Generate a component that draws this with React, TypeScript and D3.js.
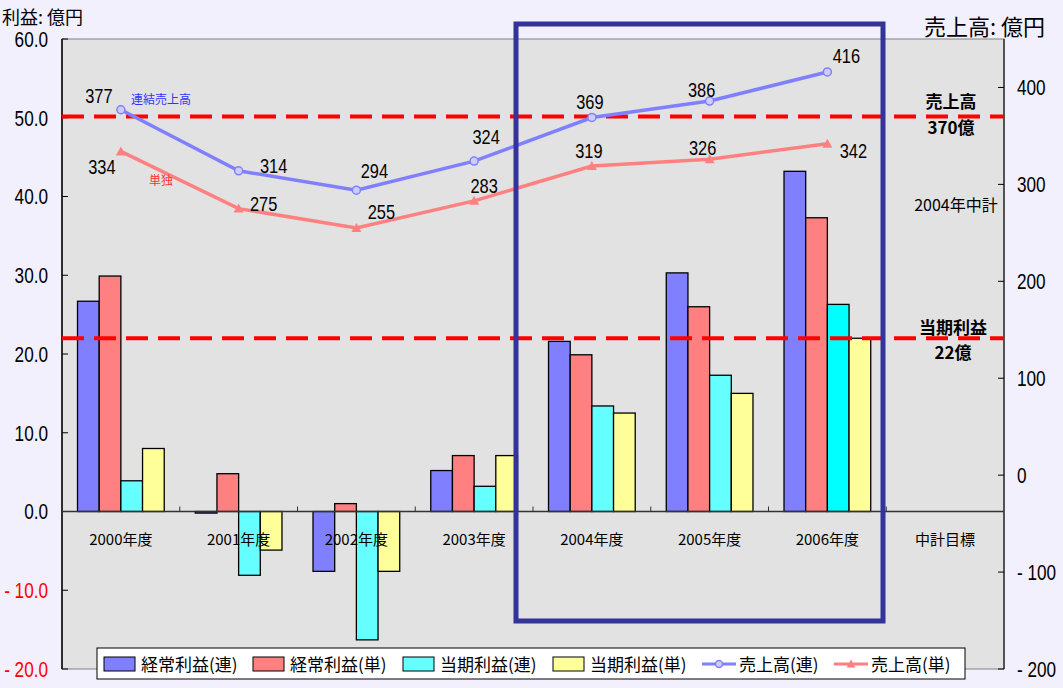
// @ts-nocheck
import React from 'react'
import * as d3 from 'd3'

const categories = ['2000年度', '2001年度', '2002年度', '2003年度', '2004年度', '2005年度', '2006年度', '中計目標']
const years = ['2000年度', '2001年度', '2002年度', '2003年度', '2004年度', '2005年度', '2006年度']

const seriesNames = ['経常利益(連)', '経常利益(単)', '当期利益(連)', '当期利益(単)']
const keijoRen = [26.7, -0.2, -7.6, 5.2, 21.6, 30.3, 43.2]
const keijoTan = [29.9, 4.8, 1.0, 7.1, 19.9, 26.0, 37.3]
const toukiRen = [3.9, -8.1, -16.3, 3.2, 13.4, 17.3, 26.3]
const toukiTan = [8.0, -4.9, -7.6, 7.1, 12.5, 15.0, 22.0]

const salesRen = [377, 314, 294, 324, 369, 386, 416]
const salesTan = [334, 275, 255, 283, 319, 326, 342]

const leftTicks = [60, 50, 40, 30, 20, 10, 0, -10, -20]
const rightTicks = [400, 300, 200, 100, 0, -100, -200]

const salesTarget = 370
const profitTarget = 22

// label offsets (dx, dy) from each point
const renOffsets = [[-22, -14], [35, -5], [18, -19], [12, -24], [-2, -16], [-8, -11], [19, -16]]
const tanOffsets = [[-19, 15], [25, -5], [25, -16], [10, -15], [-3, -15], [-7, -11], [26, 7]]

const barColors = ['#8080ff', '#ff8080', '#66ffff', '#ffff99']
const W = 1063
const H = 688
const plot = { left: 62, right: 1004, top: 39, bottom: 669 }
const jp = "'Noto Sans CJK JP', sans-serif"
const num = "'Liberation Sans', Arial, sans-serif"

// condensed numbers, like the original's narrow gothic digits
const NText = ({ x, y, size, anchor = 'start', fill = '#000', sx = 0.78, children }) => (
  <text
    transform={`translate(${x},${y}) scale(${sx},1)`}
    dy="0.36em"
    textAnchor={anchor}
    fontFamily={num}
    fontSize={size}
    fill={fill}
  >
    {children}
  </text>
)

export default function App() {
  const x = d3.scaleBand().domain(categories).range([plot.left, plot.right])
  const xi = d3.scaleBand().domain(seriesNames).range([0, x.bandwidth()]).paddingOuter(0.716)
  const yL = d3.scaleLinear().domain([-20, 60]).range([plot.bottom, plot.top])
  const yR = d3.scaleLinear().domain([-200, 450]).range([plot.bottom, plot.top])

  const barData = [keijoRen, keijoTan, toukiRen, toukiTan]
  const cx = (c) => x(c) + x.bandwidth() / 2

  const line = (vals) =>
    d3.line().x((d, i) => cx(years[i])).y((d) => yR(d))(vals)

  const legendItems = [
    { type: 'rect', color: barColors[0], label: '経常利益(連)', x: 104 },
    { type: 'rect', color: barColors[1], label: '経常利益(単)', x: 253 },
    { type: 'rect', color: barColors[2], label: '当期利益(連)', x: 403 },
    { type: 'rect', color: barColors[3], label: '当期利益(単)', x: 553 },
    { type: 'circle', color: '#8080ff', label: '売上高(連)', x: 702 },
    { type: 'tri', color: '#ff8080', label: '売上高(単)', x: 834 },
  ]

  const tri = (px, py, s) => `M${px},${py - s}L${px + s},${py + s * 0.8}L${px - s},${py + s * 0.8}Z`

  return (
    <svg width={W} height={H} style={{ position: 'absolute', left: 0, top: 0, background: '#f2f0fc' }}>
      <rect x={0} y={0} width={W} height={H} fill="#f2f0fc" />
      <rect x={plot.left} y={plot.top} width={plot.right - plot.left} height={plot.bottom - plot.top} fill="#e2e2e2" stroke="#808080" />

      {/* axis titles */}
      <text x={2} y={24} fontFamily={jp} fontSize={18} fill="#000">利益: 億円</text>
      <text x={924} y={35} fontFamily={jp} fontSize={22} fill="#000">売上高: 億円</text>

      {/* left axis */}
      <line x1={plot.left} x2={plot.left} y1={plot.top} y2={plot.bottom} stroke="#000" strokeWidth={1.5} />
      {leftTicks.map((t) => (
        <g key={t}>
          <line x1={plot.left} x2={plot.left + 6} y1={yL(t)} y2={yL(t)} stroke="#000" />
          <NText x={48} y={yL(t)} size={22} anchor="end" fill={t < 0 ? '#ff0000' : '#000'}>
            {t < 0 ? `- ${d3.format('.1f')(-t)}` : d3.format('.1f')(t)}
          </NText>
        </g>
      ))}

      {/* right axis */}
      <line x1={plot.right} x2={plot.right} y1={plot.top} y2={plot.bottom} stroke="#333" strokeWidth={1.5} />
      {rightTicks.map((t) => (
        <g key={t}>
          <line x1={plot.right - 6} x2={plot.right} y1={yR(t)} y2={yR(t)} stroke="#000" />
          <NText x={1017} y={yR(t)} size={22}>
            {t < 0 ? `- ${-t}` : t}
          </NText>
        </g>
      ))}

      {/* bars */}
      {barData.map((vals, s) =>
        vals.map((v, i) => (
          <rect
            key={`${s}-${i}`}
            x={x(years[i]) + xi(seriesNames[s])}
            y={Math.min(yL(v), yL(0))}
            width={xi.bandwidth()}
            height={Math.abs(yL(v) - yL(0))}
            fill={s === 2 && i === 6 ? '#00ffff' : barColors[s]}
            stroke="#000"
            strokeWidth={1.3}
          />
        ))
      )}

      {/* zero axis with category ticks */}
      <line x1={plot.left} x2={plot.right} y1={yL(0)} y2={yL(0)} stroke="#333" strokeWidth={1.3} />
      {categories.slice(1).map((c) => (
        <line key={c} x1={x(c)} x2={x(c)} y1={yL(0) - 5} y2={yL(0)} stroke="#333" />
      ))}
      {categories.map((c) => (
        <text key={c} x={cx(c)} y={545} textAnchor="middle" fontFamily={jp} fontSize={15} fill="#000">
          {c}
        </text>
      ))}

      {/* target lines */}
      <line x1={plot.left} x2={plot.right} y1={yR(salesTarget)} y2={yR(salesTarget)} stroke="#ff0000" strokeWidth={4} strokeDasharray="22,10" />
      <line x1={plot.left} x2={plot.right} y1={yL(profitTarget)} y2={yL(profitTarget)} stroke="#ff0000" strokeWidth={4} strokeDasharray="22,10" />

      {/* sales lines */}
      <path d={line(salesTan)} fill="none" stroke="#ff8080" strokeWidth={3.5} />
      {salesTan.map((v, i) => (
        <path key={i} d={tri(cx(years[i]), yR(v), 5)} fill="#ff8080" />
      ))}
      <path d={line(salesRen)} fill="none" stroke="#8080ff" strokeWidth={3.5} />
      {salesRen.map((v, i) => (
        <circle key={i} cx={cx(years[i])} cy={yR(v)} r={4} fill="#ccccff" stroke="#8080ff" strokeWidth={1.5} />
      ))}

      {salesRen.map((v, i) => (
        <NText key={i} x={cx(years[i]) + renOffsets[i][0]} y={yR(v) + renOffsets[i][1]} size={20} anchor="middle" sx={0.82}>
          {v}
        </NText>
      ))}
      {salesTan.map((v, i) => (
        <NText key={i} x={cx(years[i]) + tanOffsets[i][0]} y={yR(v) + tanOffsets[i][1]} size={20} anchor="middle" sx={0.82}>
          {v}
        </NText>
      ))}

      <text x={131} y={104} fontFamily={jp} fontSize={12} fill="#3333ff">連結売上高</text>
      <text x={149} y={185} fontFamily={jp} fontSize={12} fill="#ff3333">単独</text>

      {/* target annotations */}
      <g fontFamily={jp} fontWeight="bold" fontSize={17} fill="#000" textAnchor="middle">
        <text x={951} y={108}>売上高</text>
        <text x={951} y={134}>370億</text>
        <text x={953} y={334}>当期利益</text>
        <text x={953} y={359}>22億</text>
      </g>
      <text x={956} y={211} textAnchor="middle" fontFamily={jp} fontSize={16} fill="#000">2004年中計</text>

      {/* highlight box */}
      <rect x={516} y={24} width={367} height={597} fill="none" stroke="#333399" strokeWidth={5} />

      {/* legend */}
      <rect x={97} y={648} width={868} height={31} fill="#fff" stroke="#000" />
      {legendItems.map((d) => (
        <g key={d.label}>
          {d.type === 'rect' && <rect x={d.x} y={657} width={31} height={14} fill={d.color} stroke="#000" />}
          {d.type !== 'rect' && <line x1={d.x} x2={d.x + 34} y1={664} y2={664} stroke={d.color} strokeWidth={3} />}
          {d.type === 'circle' && <circle cx={d.x + 17} cy={664} r={3.5} fill="#ccccff" stroke={d.color} strokeWidth={1.5} />}
          {d.type === 'tri' && <path d={tri(d.x + 17, 664, 4.5)} fill={d.color} />}
          <text x={d.x + 37} y={671} fontFamily={jp} fontSize={17} fill="#000">
            {d.label}
          </text>
        </g>
      ))}
    </svg>
  )
}
